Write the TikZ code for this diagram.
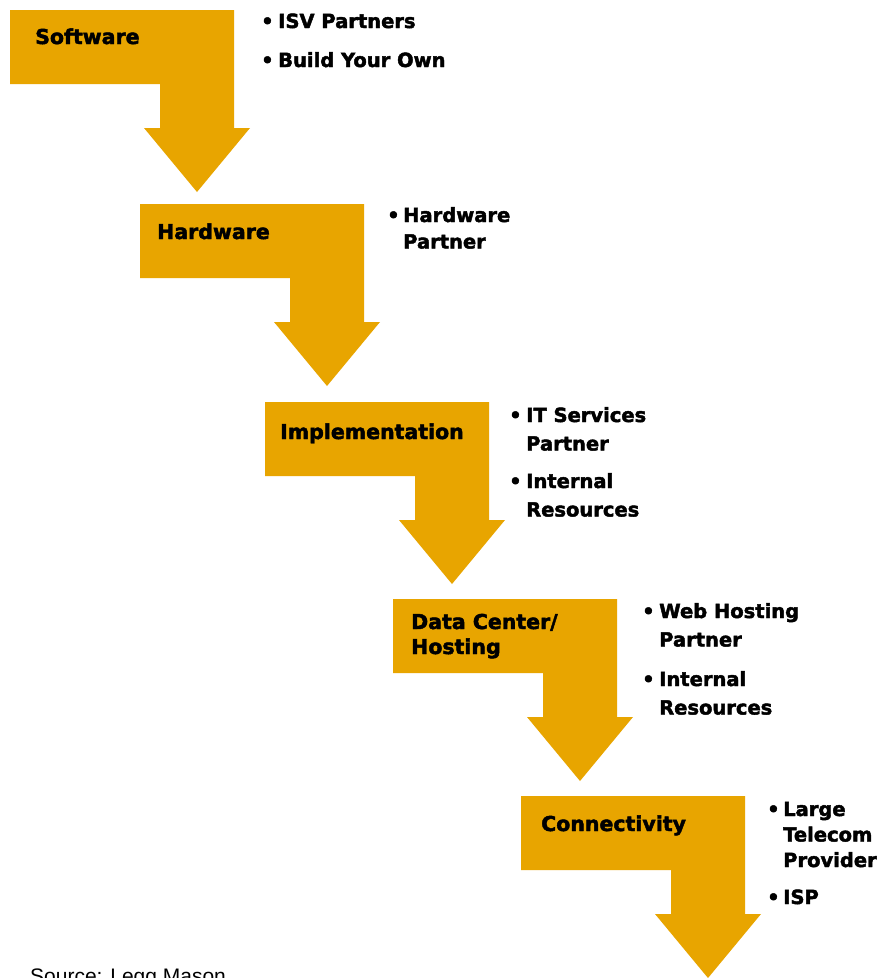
\documentclass[tikz,border=0pt]{standalone}
\usepackage{fontspec}
\setmainfont{DejaVu Sans}[BoldFeatures={FakeBold=2.2}]
\newfontfamily\srcfont{Liberation Sans}
\definecolor{stepgold}{RGB}{232,165,0}
\tikzset{
  stepshape/.style={fill=stepgold, draw=none},
  steptitle/.style={anchor=base west, inner sep=0pt,
    font=\fontsize{20.5}{25}\selectfont\bfseries},
  itemtext/.style={anchor=base west, inner sep=0pt,
    font=\fontsize{19.5}{28.5}\selectfont\bfseries},
  itembullet/.style={anchor=base west, inner sep=0pt,
    font=\fontsize{19.5}{28.5}\selectfont\bfseries},
}
% stacked lines whose baseline is that of the first line
\newcommand{\toplines}[1]{\begin{tabular}[t]{@{}l@{}}#1\end{tabular}}
% one bent step arrow with its top-left corner at #1
\newcommand{\steparrow}[1]{%
  \fill[stepshape, shift={#1}] (0,0) -- (224,0) -- (224,118) -- (240,118)
    -- (187,182) -- (134,118) -- (150,118) -- (150,74) -- (0,74) -- cycle;}
% a bulleted entry: name, bullet x, text x, baseline y, text
\newcommand{\stepitem}[6][]{%
  \node[itembullet] (#2b) at (#3,#5) {\textbullet};
  \node[itemtext,#1] (#2) at (#4,#5) {\toplines{#6}};}
\begin{document}
\begin{tikzpicture}[x=1pt,y=-1pt]
\useasboundingbox (0,0) rectangle (893,978);
\fill[white] (0,0) rectangle (893,978);

\steparrow{(10,10)}
\steparrow{(140,204)}
\steparrow{(265,402)}
\steparrow{(393,599)}
\steparrow{(521,796)}

\node[steptitle] (software) at (35,44) {Software};
\node[steptitle] (hardware) at (157,239) {Hardware};
\node[steptitle] (implementation) at (280,439) {Implementation};
\node[steptitle] (datacenter) at (411,629) {\toplines{Data Center/\\Hosting}};
\node[steptitle] (connectivity) at (541,831) {Connectivity};

\stepitem{isv}{261}{278}{28}{ISV Partners}
\stepitem{byo}{261}{278}{67}{Build Your Own}

\stepitem[font=\fontsize{19.5}{26.5}\selectfont\bfseries]{hwp}{387}{403}{222}{Hardware\\Partner}

\stepitem{itsp}{509}{526}{422}{IT Services\\Partner}
\stepitem{intres}{509}{526}{488}{Internal\\Resources}

\stepitem{whp}{642}{659}{618}{Web Hosting\\Partner}
\stepitem{intresb}{642}{659}{686}{Internal\\Resources}

\stepitem[font=\fontsize{19.5}{25.5}\selectfont\bfseries]{tel}{767}{783}{816}{Large\\Telecom\\Provider}
\stepitem{isp}{767}{783}{904}{ISP}

\node[anchor=base west, inner sep=0pt, font=\srcfont\fontsize{21}{25}\selectfont] (source) at (30,983) {Source: Legg Mason};
\end{tikzpicture}
\end{document}
